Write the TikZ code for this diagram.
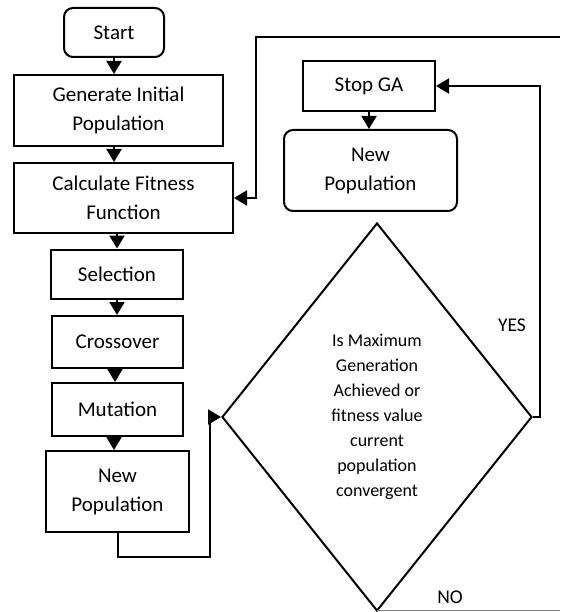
\documentclass[tikz,border=0pt]{standalone}
\usepackage{fontspec}
\setmainfont{Carlito}
\usetikzlibrary{shapes.geometric,arrows.meta}

\begin{document}
\begin{tikzpicture}[x=1pt,y=-1pt,
    box/.style={draw,line width=2pt,align=center,inner sep=0pt,font=\fontsize{21}{29}\selectfont},
    rbox/.style={box,rounded corners=9pt},
    decide/.style={draw,diamond,line width=2pt,align=center,inner sep=0pt,font=\fontsize{18}{25}\selectfont},
    arr/.style={line width=2pt,-{Triangle[length=13pt,width=15pt]}},
    lbl/.style={font=\fontsize{19.5}{23}\selectfont}]
    \useasboundingbox (0,0) rectangle (560,612);
    % left column
    \node[rbox,minimum width=100pt,minimum height=49pt] (start) at (114,32.5) {Start};
    \node[box,minimum width=209pt,minimum height=71pt] (gen) at (118.5,110.5) {Generate Initial\\Population};
    \node[box,minimum width=219pt,minimum height=70pt] (calc) at (123.5,198) {Calculate Fitness\\Function};
    \node[box,minimum width=132pt,minimum height=49pt] (sel) at (117,274) {Selection};
    \node[box,minimum width=131pt,minimum height=52pt] (cross) at (117.5,342) {Crossover};
    \node[box,minimum width=131pt,minimum height=53pt] (mut) at (117.5,409.5) {Mutation};
    \node[box,minimum width=143pt,minimum height=81pt] (newpop) at (117.5,491.5) {New\\Population};
    % right column
    \node[box,minimum width=132pt,minimum height=50pt] (stop) at (369,86) {Stop GA};
    \node[rbox,minimum width=173pt,minimum height=81pt] (final) at (370.5,170.5) {New\\Population};
    \node[decide,minimum width=310pt,minimum height=388pt] (check) at (377,417) {Is Maximum\\Generation\\Achieved or\\fitness value\\current\\population\\convergent};
    % arrows down the left
    \draw[arr] (start.south) -- (start.south |- gen.north);
    \draw[arr] (gen.south -| 114,0) -- (calc.north -| 114,0);
    \draw[arr] (sel.north |- calc.south) -- (sel.north);
    \draw[arr] (sel.south) -- (cross.north -| sel.south);
    \draw[arr] (cross.south -| 115,0) -- (mut.north -| 115,0);
    \draw[arr] (mut.south -| 114,0) -- (newpop.north -| 114,0);
    \draw[arr] (stop.south) -- (final.north -| stop.south);
    % loops
    \coordinate (backR) at (560,37);
    \coordinate (backL) at (256,37);
    \draw[arr] (backR) -- (backL) |- (calc.east);
    \coordinate (low) at (210,557);
    \draw[arr] (newpop.south) |- (low) |- (check.west);
    \coordinate (yes) at (540,417);
    \draw[arr] (check.east) -- (yes) |- (stop.east);
    \coordinate (noR) at (560,610.5);
    \draw[gray,line width=1pt] (check.south |- noR) -- (noR);
    \node[lbl] (yeslbl) at (512,325) {YES};
    \node[lbl] (nolbl) at (450,597) {NO};
\end{tikzpicture}
\end{document}
